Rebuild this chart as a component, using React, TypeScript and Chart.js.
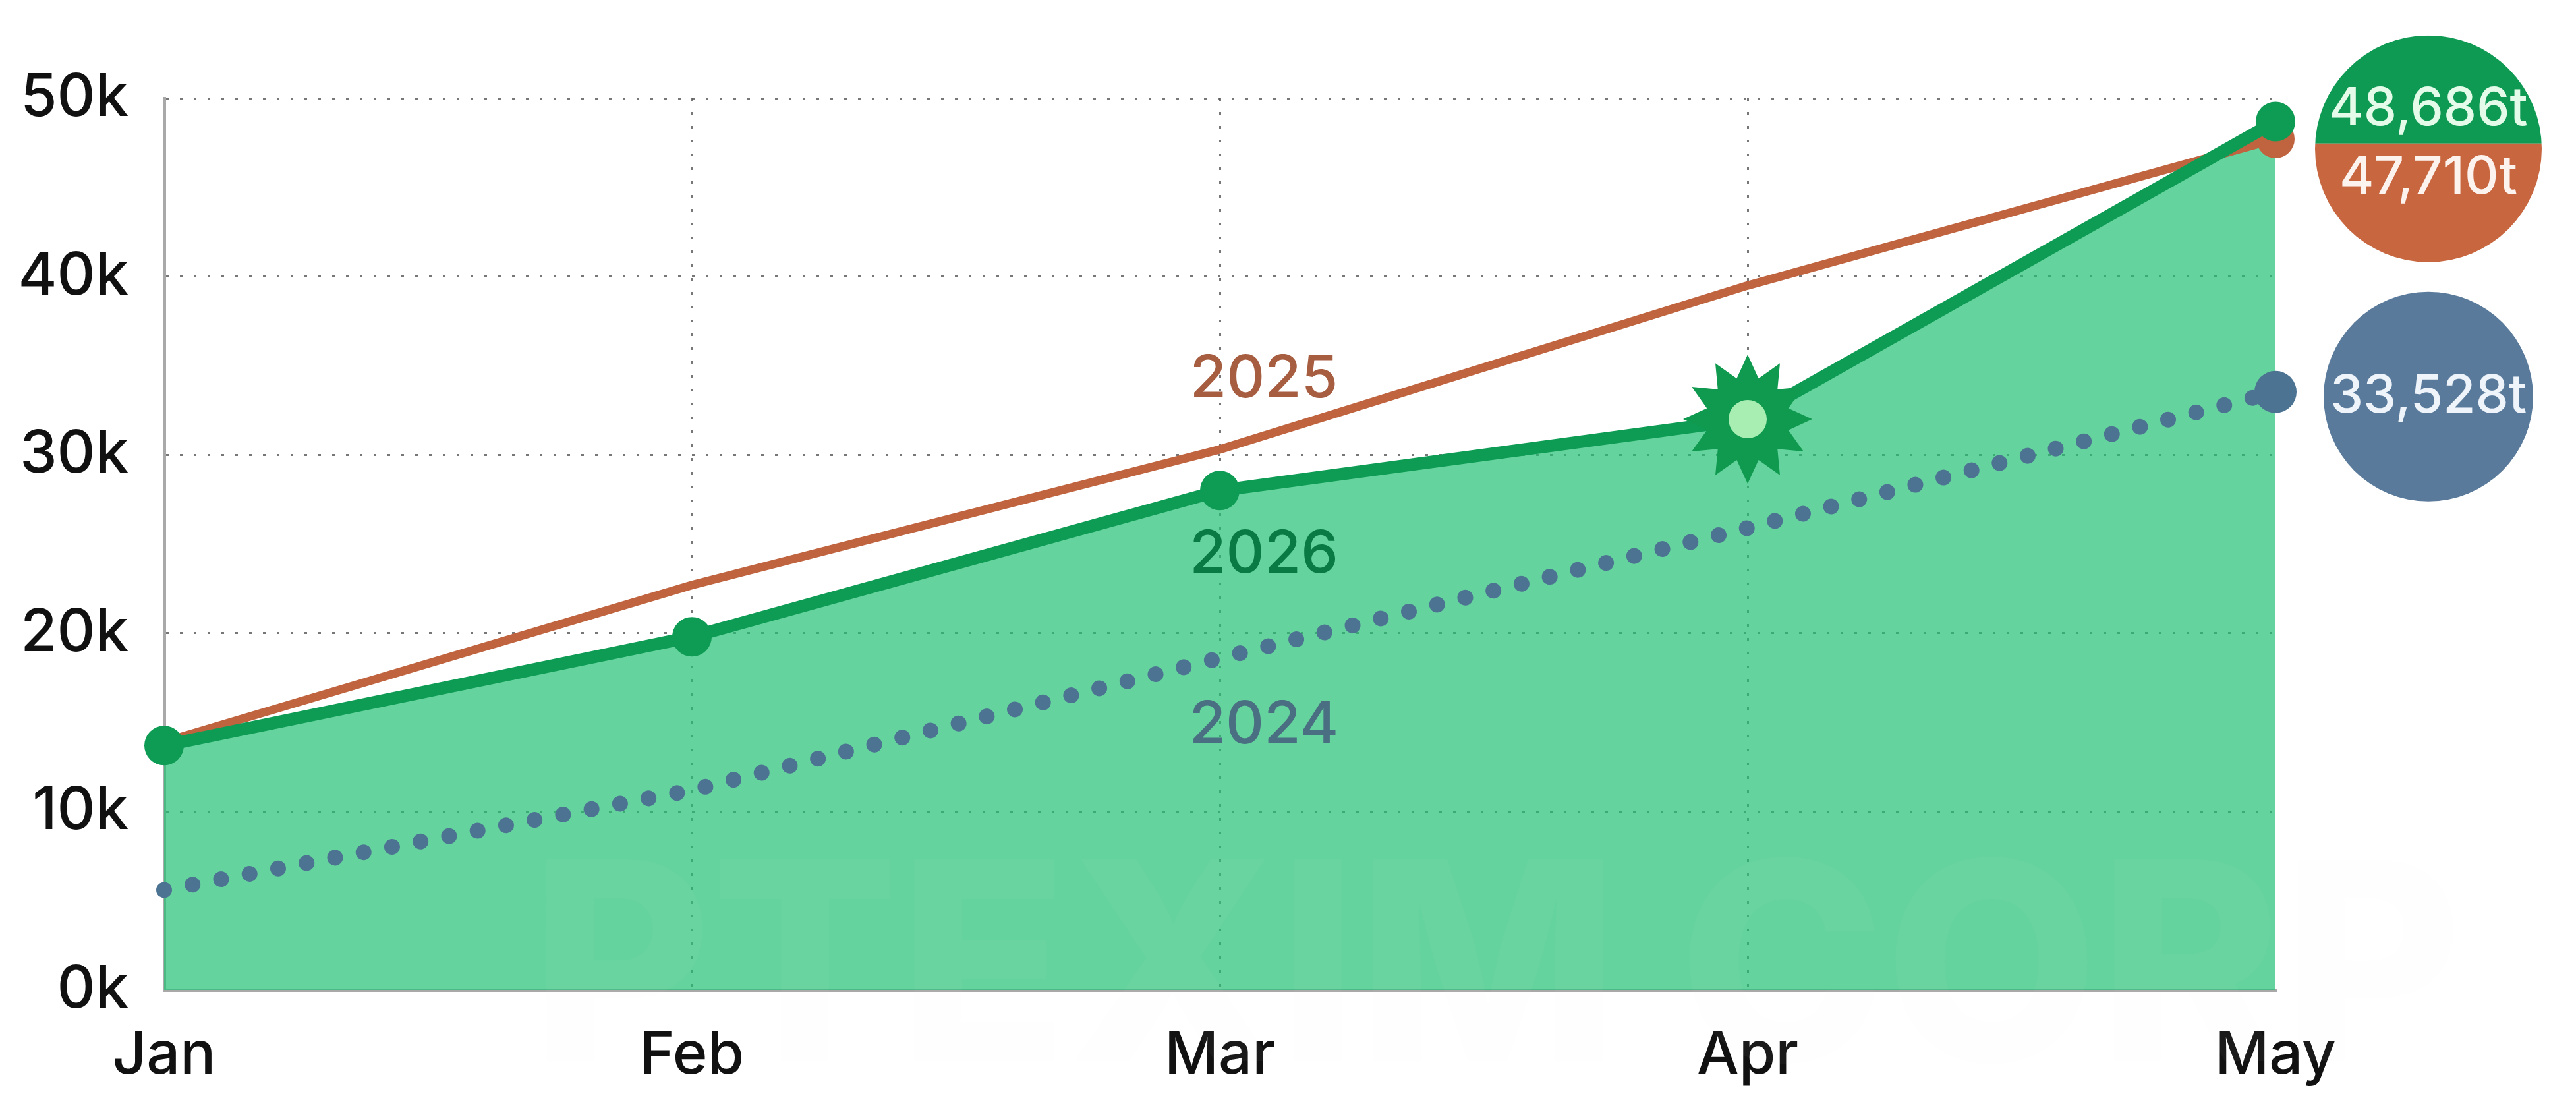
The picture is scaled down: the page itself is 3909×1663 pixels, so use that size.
import React, { useEffect, useRef } from 'react';
import { Chart, registerables } from 'chart.js';

Chart.register(...registerables);

// ---------- data ----------
const months = ['Jan', 'Feb', 'Mar', 'Apr', 'May'];
const yTickValues = [0, 10000, 20000, 30000, 40000, 50000];
const series2026 = [13700, 19800, 28000, 32000, 48686];
const series2025 = [13900, 22700, 30300, 39500, 47710];
const series2024 = [5600, 11200, 18600, 25900, 33528];
const seriesNames = ['2026', '2025', '2024'];
const highlightIndex = 3;
const watermarkText = 'PTEXIM CORP';

// ---------- style ----------
const W = 3909;
const H = 1663;
const FONT = 'Inter, "Noto Sans", sans-serif';
const C2026 = '#0e9c55';
const C2026_FILL = 'rgba(36,192,116,0.70)';
const C2025 = '#c0633f';
const C2024 = '#4d7393';
const BADGE_GREEN = '#0f9a54';
const BADGE_ORANGE = '#c7663f';
const BADGE_BLUE = '#5a7a9b';

const fmt = (v: number) => v.toLocaleString('en-US') + 't';

function drawBurst(ctx: CanvasRenderingContext2D, x: number, y: number, spikes: number, rOut: number, rIn: number) {
  ctx.beginPath();
  for (let i = 0; i < spikes * 2; i++) {
    const r = i % 2 === 0 ? rOut : rIn;
    const a = -Math.PI / 2 + (i * Math.PI) / spikes;
    const px = x + r * Math.cos(a);
    const py = y + r * Math.sin(a);
    if (i === 0) ctx.moveTo(px, py);
    else ctx.lineTo(px, py);
  }
  ctx.closePath();
  ctx.fill();
}

const decorPlugin = {
  id: 'decor',
  afterDatasetsDraw(chart: any) {
    const { ctx, scales, chartArea } = chart;
    const xs = scales.x;
    const ys = scales.y;
    const last = months.length - 1;

    // watermark (very faint)
    ctx.save();
    ctx.font = `800 420px ${FONT}`;
    ctx.fillStyle = 'rgba(240,240,240,0.045)';
    ctx.textAlign = 'center';
    ctx.textBaseline = 'alphabetic';
    ctx.fillText(watermarkText, (chartArea.left + chartArea.right) / 2 + 420, 1610);
    ctx.restore();

    // highlight burst on 2026
    const meta26 = chart.getDatasetMeta(0);
    const hp = meta26.data[highlightIndex];
    ctx.save();
    ctx.fillStyle = '#109a50';
    drawBurst(ctx, hp.x, hp.y, 12, 98, 64);
    ctx.beginPath();
    ctx.fillStyle = '#a8eeb2';
    ctx.arc(hp.x, hp.y, 29, 0, Math.PI * 2);
    ctx.fill();
    ctx.restore();

    // series labels near Mar
    const lx = xs.getPixelForValue(2) + 67;
    ctx.save();
    ctx.font = `500 90px ${FONT}`;
    ctx.textAlign = 'center';
    ctx.textBaseline = 'middle';
    ctx.fillStyle = '#a65d40';
    ctx.fillText(seriesNames[1], lx, ys.getPixelForValue(series2025[2]) - 106);
    ctx.fillStyle = '#0a7a44';
    ctx.fillText(seriesNames[0], lx, ys.getPixelForValue(series2026[2]) + 98);
    ctx.fillStyle = '#4a6f82';
    ctx.fillText(seriesNames[2], lx, ys.getPixelForValue(series2024[2]) + 102);
    ctx.restore();

    // badges
    const bx = chartArea.right + 232;
    const yG = ys.getPixelForValue(series2026[last]);
    const yO = ys.getPixelForValue(series2025[last]);
    const cy = (yG + yO) / 2 + 28;
    const r1 = 172;
    const split = cy - 8;
    ctx.save();
    ctx.beginPath();
    ctx.arc(bx, cy, r1, 0, Math.PI * 2);
    ctx.clip();
    ctx.fillStyle = BADGE_GREEN;
    ctx.fillRect(bx - r1, cy - r1, r1 * 2, split - (cy - r1));
    ctx.fillStyle = BADGE_ORANGE;
    ctx.fillRect(bx - r1, split, r1 * 2, cy + r1 - split);
    ctx.restore();

    const yB = ys.getPixelForValue(series2024[last]) + 7;
    ctx.save();
    ctx.beginPath();
    ctx.fillStyle = BADGE_BLUE;
    ctx.arc(bx, yB, 159, 0, Math.PI * 2);
    ctx.fill();
    ctx.restore();

    ctx.save();
    ctx.font = `500 80px ${FONT}`;
    ctx.textAlign = 'center';
    ctx.textBaseline = 'middle';
    ctx.fillStyle = '#e4fbe9';
    ctx.fillText(fmt(series2026[last]), bx, cy - 60);
    ctx.fillStyle = '#fdf3ee';
    ctx.fillText(fmt(series2025[last]), bx, cy + 44);
    ctx.fillStyle = '#eef4fa';
    ctx.fillText(fmt(series2024[last]), bx, yB);
    ctx.restore();
  },
};

export default function App() {
  const ref = useRef<HTMLCanvasElement>(null);

  useEffect(() => {
    const last = months.length - 1;
    const chart = new Chart(ref.current as HTMLCanvasElement, {
      type: 'line',
      data: {
        labels: months,
        datasets: [
          {
            label: seriesNames[0],
            data: series2026,
            borderColor: C2026,
            backgroundColor: C2026_FILL,
            fill: 'origin',
            borderWidth: 19,
            borderJoinStyle: 'round',
            borderCapStyle: 'round',
            tension: 0,
            pointRadius: (c: any) => (c.dataIndex === highlightIndex ? 0 : 30),
            pointBackgroundColor: C2026,
            pointBorderWidth: 0,
            order: 1,
            clip: false,
          },
          {
            label: seriesNames[1],
            data: series2025,
            borderColor: C2025,
            backgroundColor: C2025,
            fill: false,
            borderWidth: 13,
            borderCapStyle: 'round',
            tension: 0,
            pointRadius: (c: any) => (c.dataIndex === last ? 29 : 0),
            pointBackgroundColor: C2025,
            pointBorderWidth: 0,
            order: 2,
            clip: false,
          },
          {
            label: seriesNames[2],
            data: series2024,
            borderColor: C2024,
            backgroundColor: C2024,
            fill: false,
            borderWidth: 24,
            borderDash: [0.01, 44],
            borderCapStyle: 'round',
            tension: 0,
            pointRadius: (c: any) => (c.dataIndex === last ? 32 : 0),
            pointBackgroundColor: C2024,
            pointBorderWidth: 0,
            order: 3,
            clip: false,
          },
        ],
      },
      options: {
        responsive: false,
        devicePixelRatio: 1,
        animation: false,
        events: [],
        layout: { padding: { top: 149, right: 456, bottom: 0, left: 0 } },
        plugins: {
          legend: { display: false },
          tooltip: { enabled: false },
          filler: { drawTime: 'beforeDatasetsDraw' },
        } as any,
        scales: {
          x: {
            type: 'category',
            offset: false,
            afterFit: (s: any) => {
              s.height = 161;
            },
            grid: {
              display: true,
              drawTicks: false,
              color: (c: any) => (c.index === months.length - 1 ? 'rgba(0,0,0,0)' : 'rgba(95,95,95,0.85)'),
              lineWidth: 3,
            },
            border: { display: true, color: '#a9a9a9', width: 5, dash: [4, 17] },
            ticks: {
              color: '#111',
              padding: 46,
              maxRotation: 0,
              font: { family: FONT, size: 90, weight: 500 } as any,
            },
          },
          y: {
            type: 'linear',
            min: yTickValues[0],
            max: yTickValues[yTickValues.length - 1],
            afterFit: (s: any) => {
              s.width = 249;
            },
            afterBuildTicks: (s: any) => {
              s.ticks = yTickValues.map((v) => ({ value: v }));
            },
            grid: {
              display: true,
              drawTicks: false,
              color: 'rgba(95,95,95,0.85)',
              lineWidth: 3,
            },
            border: { display: true, color: '#a9a9a9', width: 5, dash: [4, 17] },
            ticks: {
              color: '#111',
              padding: 54,
              font: { family: FONT, size: 90, weight: 500 } as any,
              callback: (v: any) => `${Number(v) / 1000}k`,
            },
          },
        },
      } as any,
      plugins: [decorPlugin],
    });
    return () => chart.destroy();
  }, []);

  return (
    <div style={{ position: 'fixed', left: 0, top: 0, width: W, height: H, background: '#ffffff' }}>
      <canvas ref={ref} width={W} height={H} style={{ width: W, height: H, display: 'block' }} />
    </div>
  );
}
